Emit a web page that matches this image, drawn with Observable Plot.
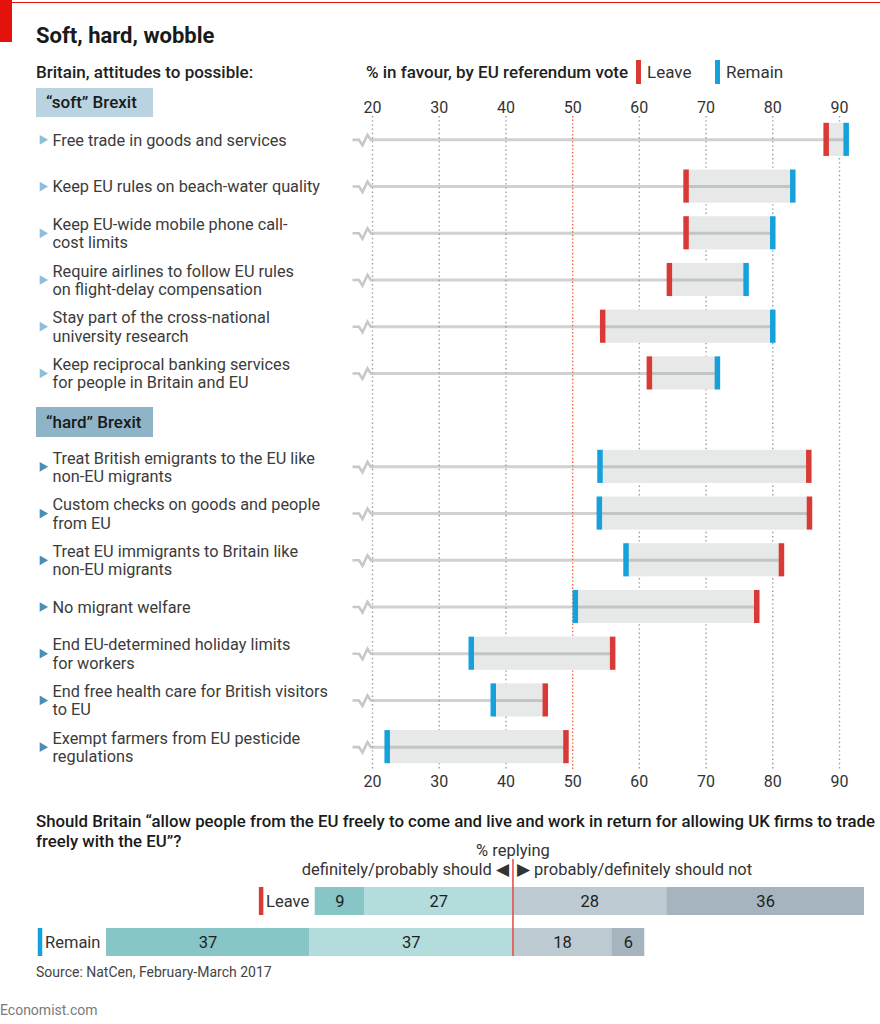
<!DOCTYPE html>
<html><head><meta charset="utf-8">
<script src="https://cdn.jsdelivr.net/npm/d3@7"></script>
<script src="https://cdn.jsdelivr.net/npm/@observablehq/plot@0.6"></script>
<style>
body{margin:0;background:#fff;font-family:Roboto,"Open Sans",sans-serif;color:#1a1a1a}
#page{position:relative;width:880px;height:1024px;overflow:hidden;background:#fff}
.abs{position:absolute;white-space:nowrap;line-height:1}
.hdr{position:absolute;left:36px;width:117px;font-size:17px;font-weight:500;color:#1a1a1a;box-sizing:border-box;padding-left:10px}
.plotwrap{position:absolute;left:0;width:880px}
.plotwrap svg{display:block}
</style></head><body>
<div id="page">
  <div class="abs" style="left:0;top:2px;width:880px;height:1.3px;background:#e3120b"></div>
  <div class="abs" style="left:0;top:0;width:12px;height:42px;background:#e3120b"></div>
  <div class="abs" style="left:36px;top:24.5px;font-size:22px;font-weight:700">Soft, hard, wobble</div>
  <div class="abs" style="left:36px;top:64px;font-size:17px;font-weight:500;color:#222">Britain, attitudes to possible:</div>
  <div class="abs" style="left:366px;top:64px;font-size:17px;font-weight:500;color:#222">% in favour, by EU referendum vote</div>
  <div class="abs" style="left:636px;top:60px;width:5px;height:24px;background:#d93a36"></div>
  <div class="abs" style="left:647px;top:64px;font-size:17px;color:#333">Leave</div>
  <div class="abs" style="left:715px;top:60px;width:5px;height:24px;background:#15a2dc"></div>
  <div class="abs" style="left:726px;top:64px;font-size:17px;color:#333">Remain</div>
  <div class="hdr" style="top:88px;height:29px;line-height:29px;background:#b9d3e1">“soft” Brexit</div>
  <div class="hdr" style="top:407px;height:30px;line-height:30px;background:#8fb4c7">“hard” Brexit</div>
  <div id="topChart" class="plotwrap" style="top:90px"></div>
  <div class="abs" style="left:36px;top:811px;font-size:16.8px;font-weight:500;color:#1a1a1a;line-height:20px">Should Britain “allow people from the EU freely to come and live and work in return for allowing UK firms to trade<br>freely with the EU”?</div>
  <div id="bottomChart" class="plotwrap" style="top:838px"></div>
  <div class="abs" style="left:36px;top:965px;font-size:14px;color:#444">Source: NatCen, February-March 2017</div>
  <div class="abs" style="left:0;top:1003px;font-size:14px;color:#7a7a7a">Economist.com</div>
</div>
<script>
// ---------- data ----------
const xTicks = [20, 30, 40, 50, 60, 70, 80, 90];
const softItems = [
  "Free trade in goods and services",
  "Keep EU rules on beach-water quality",
  "Keep EU-wide mobile phone call-\ncost limits",
  "Require airlines to follow EU rules\non flight-delay compensation",
  "Stay part of the cross-national\nuniversity research",
  "Keep reciprocal banking services\nfor people in Britain and EU"
];
const softLeave  = [88, 67, 67, 64.5, 54.5, 61.5];
const softRemain = [91, 83, 80, 76, 80, 71.7];
const hardItems = [
  "Treat British emigrants to the EU like\nnon-EU migrants",
  "Custom checks on goods and people\nfrom EU",
  "Treat EU immigrants to Britain like\nnon-EU migrants",
  "No migrant welfare",
  "End EU-determined holiday limits\nfor workers",
  "End free health care for British visitors\nto EU",
  "Exempt farmers from EU pesticide\nregulations"
];
const hardLeave  = [85.4, 85.5, 81.3, 77.6, 56, 45.9, 49];
const hardRemain = [54.1, 54, 58, 50.4, 34.8, 38.1, 22.2];

const voteGroups = ["Leave", "Remain"];
const responseCats = ["definitely should", "probably should", "probably should not", "definitely should not"];
const leaveShares  = [9, 27, 28, 36];
const remainShares = [37, 37, 18, 6];
const shouldLabel = "definitely/probably should ◀";
const shouldNotLabel = "▶ probably/definitely should not";

// ---------- styles ----------
const leaveColor = "#d93a36", remainColor = "#15a2dc";
const catColors = ["#87c5c7", "#b3dcdd", "#bdcad2", "#a5b4be"];
const font = "Roboto, 'Open Sans', sans-serif";

// ---------- top chart ----------
const rows = [
  ...softItems.map((label, i) => ({label, leave: softLeave[i], remain: softRemain[i], group: "soft"})),
  ...hardItems.map((label, i) => ({label, leave: hardLeave[i], remain: hardRemain[i], group: "hard"}))
];
const rowKeys = [...softItems, " ", ...hardItems];

const squiggle = {
  draw(context) {
    context.moveTo(-20, 0);
    context.lineTo(-13.5, 0);
    context.lineTo(-10, 5.5);
    context.lineTo(-5, -5);
    context.lineTo(-1.7, 0);
    context.lineTo(0, 0);
  }
};
const inset = 6.8;

const topPlot = Plot.plot({
  width: 880, height: 710,
  marginLeft: 372, marginRight: 41, marginTop: 26, marginBottom: 30,
  x: {domain: [20, 90]},
  y: {domain: rowKeys, padding: 0, round: false, axis: null},
  style: {fontFamily: font, fontSize: "16px", background: "transparent", overflow: "visible", color: "#333"},
  marks: [
    Plot.ruleX(xTicks.filter(v => v !== 50), {stroke: "#9c9c9c", strokeWidth: 1.4, strokeDasharray: "1.4,2.8"}),
    Plot.ruleX([50], {stroke: "#f1603d", strokeWidth: 1.4, strokeDasharray: "1.4,2.2"}),
    Plot.barX(rows, {x1: "leave", x2: "remain", y: "label", fill: "#e7e8e8", insetTop: inset, insetBottom: inset}),
    Plot.ruleY(rows, {x1: 20, x2: d => Math.max(d.leave, d.remain), y: "label", stroke: "#9a9a9a", strokeOpacity: 0.45, strokeWidth: 3}),
    Plot.dot(rows, {x: 20, y: "label", symbol: squiggle, stroke: "#c8c8c8", strokeWidth: 2.6, fill: "none", strokeLinejoin: "miter"}),
    Plot.tickX(rows, {x: "leave", y: "label", stroke: leaveColor, strokeWidth: 5.5, insetTop: inset, insetBottom: inset}),
    Plot.tickX(rows, {x: "remain", y: "label", stroke: remainColor, strokeWidth: 5.5, insetTop: inset, insetBottom: inset}),
    Plot.text(rows, {y: "label", text: "label", frameAnchor: "left", dx: -320, textAnchor: "start", lineAnchor: "middle", lineHeight: 1.12, fontSize: 16.3, fill: "#3b3b3b"}),
    Plot.dot(rows.filter(d => d.group === "soft"), {y: "label", frameAnchor: "left", dx: -330, symbol: "triangle", rotate: 90, r: 3.6, fill: "#8dbfd9", stroke: "none"}),
    Plot.dot(rows.filter(d => d.group === "hard"), {y: "label", frameAnchor: "left", dx: -330, symbol: "triangle", rotate: 90, r: 3.6, fill: "#4a8db5", stroke: "none"}),
    Plot.axisX({anchor: "top", ticks: xTicks, tickSize: 0, tickPadding: 4, label: null, fontSize: 16, color: "#333"}),
    Plot.axisX({anchor: "bottom", ticks: xTicks, tickSize: 0, tickPadding: 5, label: null, fontSize: 16, color: "#333"})
  ]
});
document.getElementById("topChart").appendChild(topPlot);

// ---------- bottom chart ----------
const sharesByGroup = {Leave: leaveShares, Remain: remainShares};
const stackOrder = [1, 0, 2, 3]; // stack outward from the centre line
const bottomTable = [];
voteGroups.forEach(g => {
  const s = sharesByGroup[g];
  stackOrder.forEach(ci => bottomTable.push({group: g, cat: responseCats[ci], value: ci < 2 ? -s[ci] : s[ci], label: s[ci]}));
});
const groupTable = voteGroups.map(g => ({group: g, start: -(sharesByGroup[g][0] + sharesByGroup[g][1])}));
const ctx = document.createElement("canvas").getContext("2d");
ctx.font = "16.5px Roboto";

const barInset = 13;
const swatchMarks = groupTable.map(d => Plot.ruleX([d], {
  x: "start", y1: "group", y2: "group", dx: -(6 + ctx.measureText(d.group).width + 5),
  stroke: d.group === "Leave" ? leaveColor : remainColor, strokeWidth: 4.5, insetTop: barInset
}));

const bottomPlot = Plot.plot({
  width: 880, height: 122,
  marginLeft: 106, marginRight: 16, marginTop: 36, marginBottom: 4,
  x: {domain: [-74, 64], axis: null},
  y: {domain: voteGroups, padding: 0, round: false, axis: null},
  color: {domain: responseCats, range: catColors},
  style: {fontFamily: font, fontSize: "16px", background: "transparent", overflow: "visible"},
  marks: [
    Plot.barX(bottomTable, Plot.stackX({x: "value", y: "group", fill: "cat", insetTop: barInset})),
    Plot.text(bottomTable, Plot.stackX({x: "value", y: "group", text: "label", dy: barInset / 2, fontSize: 16.5, fill: "#1e1e1e"})),
    Plot.ruleX([0], {stroke: "#e5493e", strokeWidth: 1.5, insetTop: -15}),
    Plot.text(groupTable, {x: "start", y: "group", text: "group", dx: -6, dy: barInset / 2, textAnchor: "end", fontSize: 16.5, fill: "#333"}),
    ...swatchMarks,
    Plot.text(["% replying"], {x: 0, text: d => d, frameAnchor: "top", lineAnchor: "middle", dy: -24, fontSize: 16.5, fill: "#333"}),
    Plot.text([shouldLabel], {x: 0, text: d => d, frameAnchor: "top", lineAnchor: "middle", dx: -4, dy: -5, textAnchor: "end", fontSize: 16.5, fill: "#333"}),
    Plot.text([shouldNotLabel], {x: 0, text: d => d, frameAnchor: "top", lineAnchor: "middle", dx: 4, dy: -5, textAnchor: "start", fontSize: 16.5, fill: "#333"})
  ]
});
document.getElementById("bottomChart").appendChild(bottomPlot);
</script>
</body></html>
